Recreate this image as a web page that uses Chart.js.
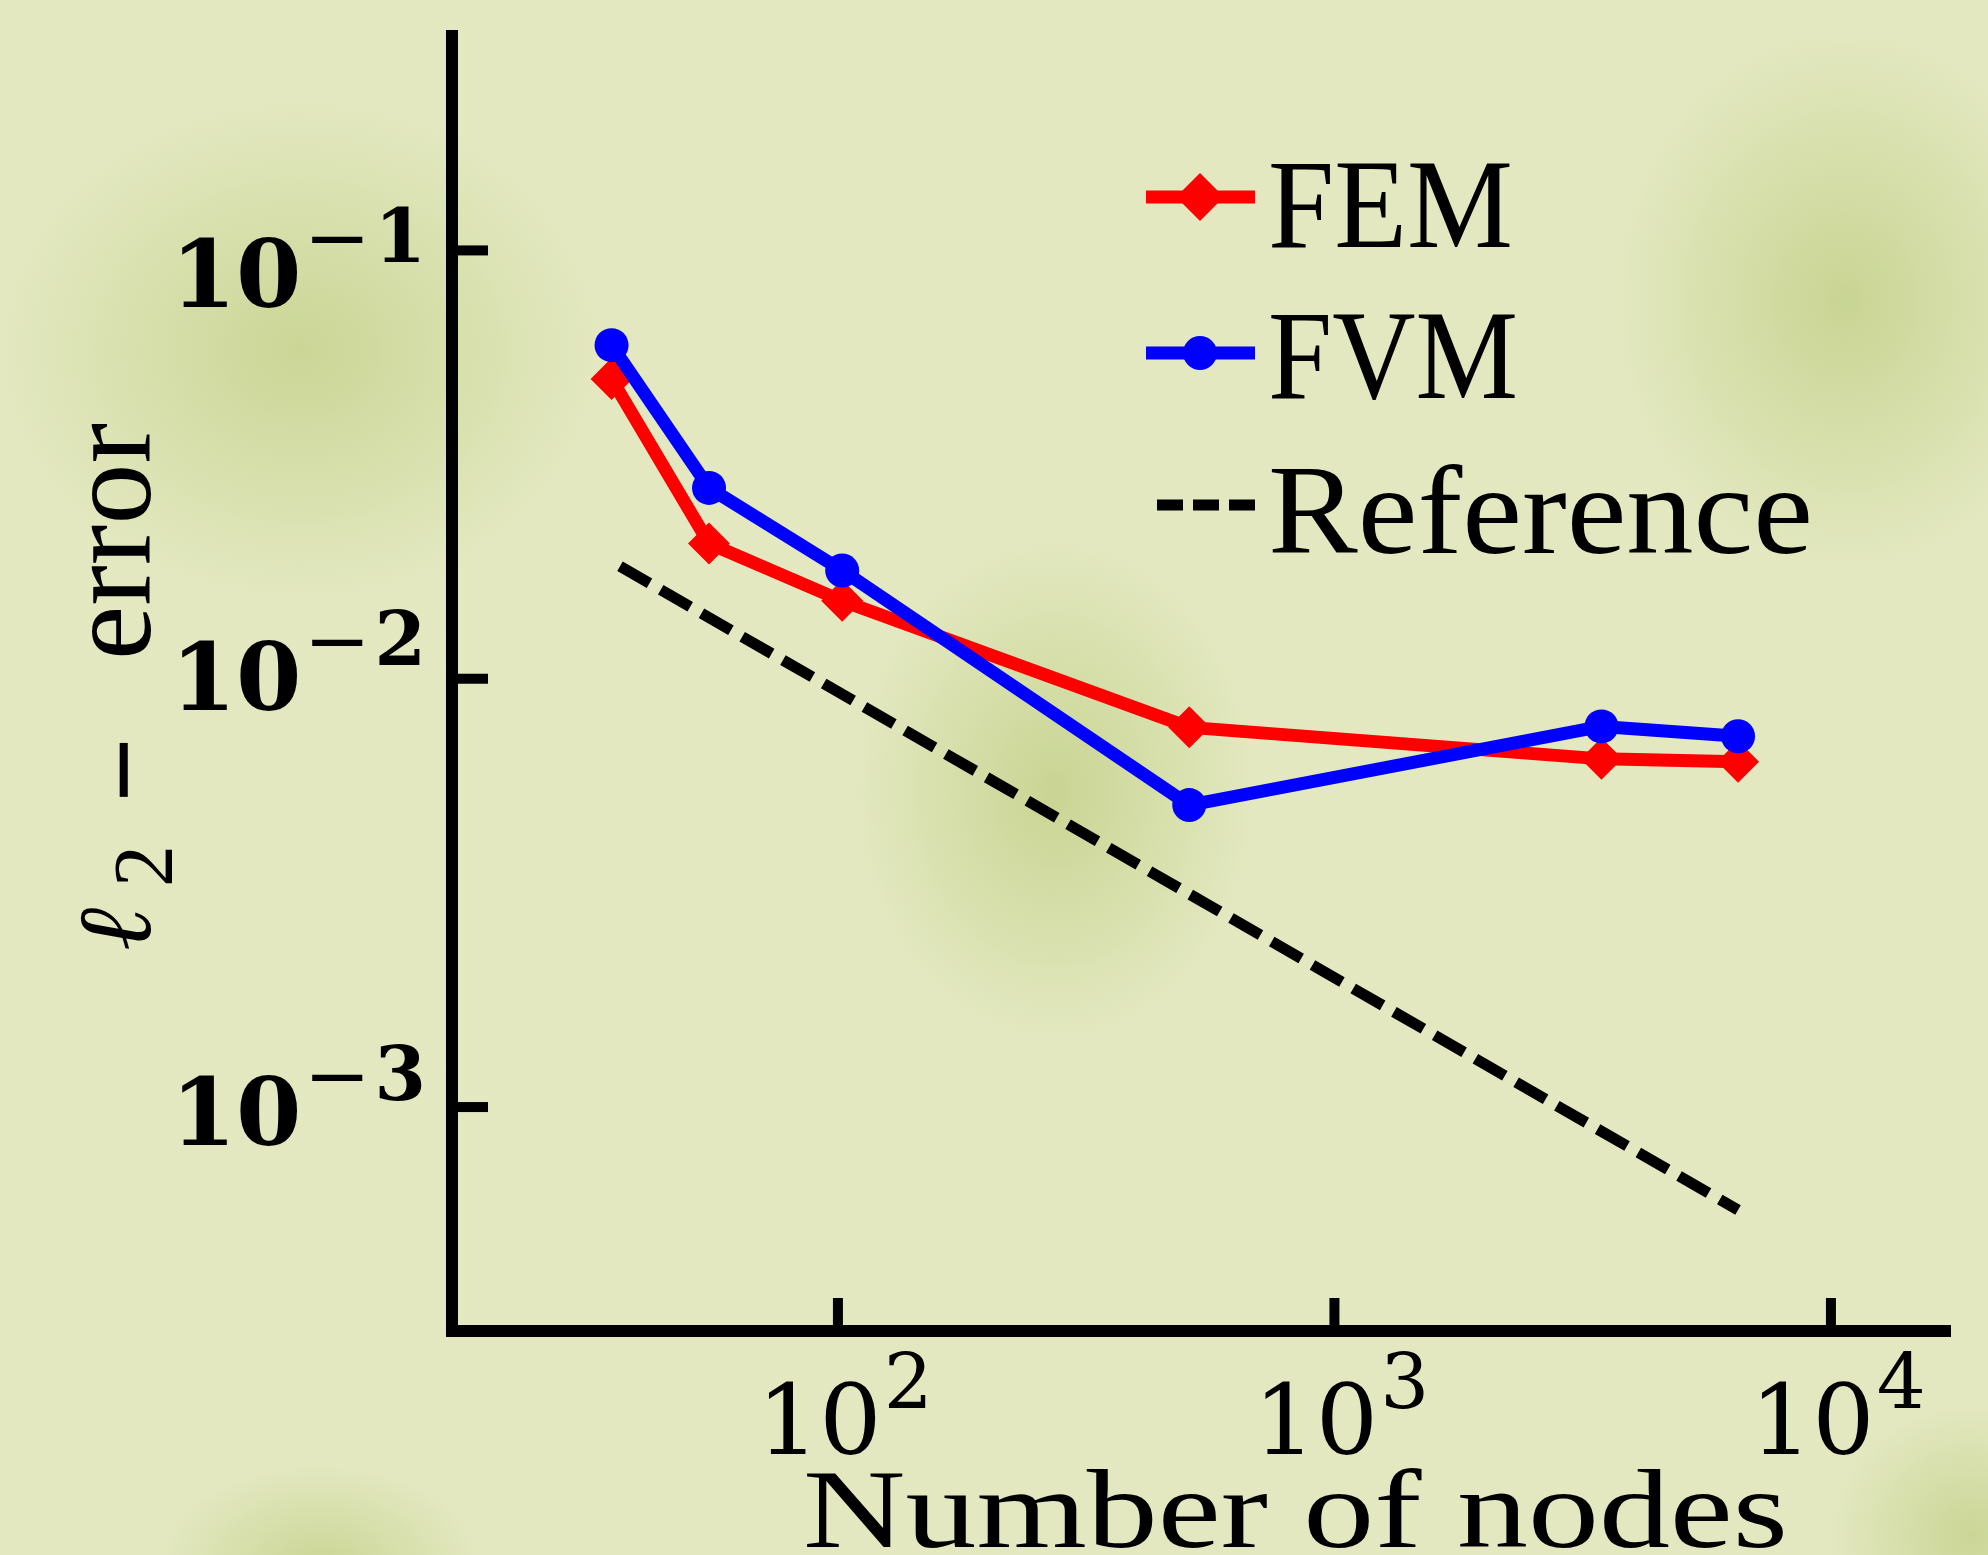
<!DOCTYPE html>
<html>
<head>
<meta charset="utf-8">
<script src="https://cdn.jsdelivr.net/npm/chart.js@4.4.1/dist/chart.umd.min.js"></script>
<style>
  html, body { margin: 0; padding: 0; }
  body {
    width: 1988px;
    height: 1555px;
    overflow: hidden;
    background-color: #e3e8c0;
    /* soft darker green smudges in the figure background */
    background-image:
      radial-gradient(ellipse 300px 250px at 300px 350px, rgba(192,206,132,0.70), rgba(192,206,132,0) 100%),
      radial-gradient(ellipse 230px 270px at 1845px 300px, rgba(192,206,132,0.75), rgba(192,206,132,0) 100%),
      radial-gradient(ellipse 200px 250px at 1055px 790px, rgba(192,206,132,0.75), rgba(192,206,132,0) 100%),
      radial-gradient(ellipse 160px 100px at 320px 1565px, rgba(192,206,132,0.70), rgba(192,206,132,0) 100%),
      radial-gradient(ellipse 140px 130px at 1970px 1535px, rgba(192,206,132,0.70), rgba(192,206,132,0) 100%);
  }
  canvas { display: block; }
</style>
</head>
<body>
<canvas id="chart" width="1988" height="1555"></canvas>
<script>
// Values (log-log).
const nodes = [35, 55, 102, 510, 3450, 6500];
const femError = [0.0501, 0.0207, 0.0152, 0.0077, 0.0065, 0.0064];
const fvmError = [0.0601, 0.0279, 0.0179, 0.00507, 0.00774, 0.00734];
const refNodes = [36.4, 6500];
const refError = [0.0183, 0.000575];

const xTicks = [1e2, 1e3, 1e4];
const xTickExp = ["2", "3", "4"];
const yTicks = [1e-1, 1e-2, 1e-3];
const yTickExp = ["1", "2", "3"];

const RED = "#ff0000";
const BLUE = "#0000ff";
const INK = "#000000";
const SERIF = "'Liberation Serif', 'DejaVu Serif', serif";
const MATH = "'DejaVu Serif', serif";

// the y labels in the figure do not sit at the same height against their ticks
const yLabelDrop = [57, 31, 38];
// the figure was resized unevenly, so legend words are a bit wider than the font
const legendTextWidth = [245, 250, 545];

const toPoints = (xs, ys) => xs.map((x, i) => ({ x, y: ys[i] }));

// Draw text squeezed/stretched horizontally to a target width.
function fitText(ctx, text, x, y, width) {
  const w = ctx.measureText(text).width;
  ctx.save();
  ctx.translate(x, y);
  ctx.scale(width / w, 1);
  ctx.fillText(text, 0, 0);
  ctx.restore();
}

const axisDecor = {
  id: "axisDecor",
  afterDraw(chart) {
    const { ctx, chartArea: a, scales: { x, y } } = chart;
    ctx.save();
    ctx.fillStyle = INK;
    ctx.textBaseline = "alphabetic";
    ctx.textAlign = "left";

    // close the corner where the two borders meet
    ctx.fillRect(a.left - 6, a.bottom - 6, 12, 12);

    // inward tick marks
    yTicks.forEach((v) => {
      const py = y.getPixelForValue(v);
      ctx.fillRect(a.left, py - 5, 36, 10);
    });
    xTicks.forEach((v) => {
      const px = x.getPixelForValue(v);
      ctx.fillRect(px - 5, a.bottom - 33, 10, 33);
    });

    // y tick labels: 10^{-n}, right aligned a little left of the axis
    yTicks.forEach((v, i) => {
      const base = y.getPixelForValue(v) + yLabelDrop[i];
      ctx.font = "bold 94px " + MATH;
      const wBase = ctx.measureText("10").width;
      ctx.font = "80px " + MATH;
      const wMinus = ctx.measureText("\u2212").width;
      ctx.font = "bold 74px " + MATH;
      const wExp = ctx.measureText(yTickExp[i]).width;
      let cx = a.left - 26 - (wBase + wMinus + wExp + 6);
      ctx.font = "bold 94px " + MATH;
      ctx.fillText("10", cx, base);
      cx += wBase + 2;
      ctx.font = "80px " + MATH;
      fitText(ctx, "\u2212", cx, base - 42, wMinus);
      cx += wMinus + 4;
      ctx.font = "bold 74px " + MATH;
      ctx.fillText(yTickExp[i], cx, base - 45);
    });

    // x tick labels: 10^n under each tick
    xTicks.forEach((v, i) => {
      const px = x.getPixelForValue(v);
      ctx.font = "98px " + MATH;
      const wBase = ctx.measureText("10").width;
      ctx.fillText("10", px - 81, a.bottom + 123);
      ctx.font = "77px " + MATH;
      ctx.fillText(xTickExp[i], px - 81 + wBase + 2, a.bottom + 77);
    });

    // x axis title
    ctx.font = "113px " + SERIF;
    fitText(ctx, "Number of nodes", 803, 1547, 985);

    // y axis title, reading bottom to top: l_2 - error
    ctx.save();
    ctx.translate(150, 951);
    ctx.rotate(-Math.PI / 2);
    ctx.font = "italic 104px " + MATH;
    ctx.fillText("\u2113", 0, 0);
    ctx.font = "84px " + SERIF;
    ctx.fillText("2", 64, 22);
    ctx.font = "bold 116px " + SERIF;
    ctx.fillText("\u2212", 148, 12);
    ctx.font = "122px " + SERIF;
    ctx.fillText("error", 291, 0);
    ctx.restore();

    ctx.restore();
  },
};

// Legend drawn inside the plot, line + marker sample like the original figure.
const legendBox = {
  id: "legendBox",
  afterDraw(chart) {
    const { ctx } = chart;
    const rows = [
      { ds: chart.data.datasets[0], y: 197, base: 247 },
      { ds: chart.data.datasets[1], y: 353, base: 398 },
      { ds: chart.data.datasets[2], y: 505, base: 553 },
    ];
    ctx.save();
    rows.forEach(({ ds, y, base }, i) => {
      ctx.strokeStyle = ds.borderColor;
      ctx.lineWidth = ds.borderWidth;
      ctx.setLineDash(ds.borderDash ? [26, 10] : []);
      ctx.beginPath();
      ctx.moveTo(ds.borderDash ? 1157 : 1146, y);
      ctx.lineTo(1255, y);
      ctx.stroke();
      ctx.setLineDash([]);
      if (ds.pointRadius > 0) {
        ctx.fillStyle = ds.backgroundColor;
        Chart.helpers.drawPoint(ctx, {
          pointStyle: ds.pointStyle,
          radius: ds.pointStyle === "rectRot" ? 24 : 17,
          rotation: 0,
          borderWidth: 0,
        }, 1200, y);
      }
      ctx.fillStyle = INK;
      ctx.font = "126px " + SERIF;
      ctx.textAlign = "left";
      ctx.textBaseline = "alphabetic";
      fitText(ctx, ds.label, 1268, base, legendTextWidth[i]);
    });
    ctx.restore();
  },
};

new Chart(document.getElementById("chart"), {
  type: "line",
  data: {
    datasets: [
      {
        label: "FEM",
        data: toPoints(nodes, femError),
        borderColor: RED,
        backgroundColor: RED,
        borderWidth: 13,
        borderJoinStyle: "round",
        pointStyle: "rectRot",
        pointRadius: 21,
        pointBorderWidth: 0,
        pointBackgroundColor: RED,
        tension: 0,
        order: 2,
      },
      {
        label: "FVM",
        data: toPoints(nodes, fvmError),
        borderColor: BLUE,
        backgroundColor: BLUE,
        borderWidth: 13,
        borderJoinStyle: "round",
        pointStyle: "circle",
        pointRadius: 17,
        pointBorderWidth: 0,
        pointBackgroundColor: BLUE,
        tension: 0,
        order: 1,
      },
      {
        label: "Reference",
        data: toPoints(refNodes, refError),
        borderColor: INK,
        backgroundColor: INK,
        borderWidth: 11,
        borderDash: [34, 13],
        pointRadius: 0,
        tension: 0,
        order: 3,
      },
    ],
  },
  options: {
    responsive: false,
    animation: false,
    devicePixelRatio: 1,
    layout: { padding: { left: 452, right: 38, top: 36, bottom: 224 } },
    plugins: { legend: { display: false }, tooltip: { enabled: false } },
    scales: {
      x: {
        type: "logarithmic",
        min: 16.7,
        max: 17370,
        grid: { display: false },
        ticks: { display: false },
        border: { display: true, color: INK, width: 12 },
        afterFit(s) { s.height = 0; },
      },
      y: {
        type: "logarithmic",
        min: 3.057e-4,
        max: 0.3167,
        grid: { display: false },
        ticks: { display: false },
        border: { display: true, color: INK, width: 12 },
        afterFit(s) { s.width = 0; },
      },
    },
  },
  plugins: [axisDecor, legendBox],
});
</script>
</body>
</html>
